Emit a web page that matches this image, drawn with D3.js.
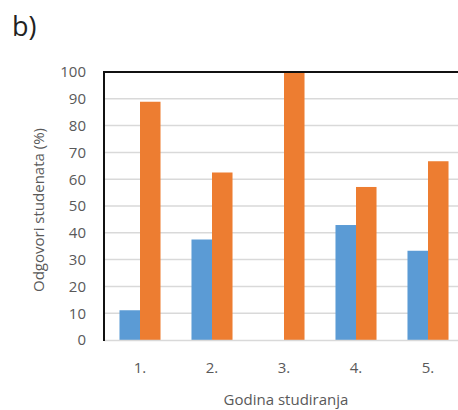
<!DOCTYPE html>
<html><head><meta charset="utf-8">
<script src="https://cdn.jsdelivr.net/npm/d3@7"></script>
<style>body{margin:0;background:#fff}svg{display:block}text{font-family:"Open Sans",sans-serif}</style>
</head><body>
<svg id="c" width="458" height="410"></svg>
<script>
const categories = ["1.", "2.", "3.", "4.", "5."];
const seriesBlue = [11.1, 37.5, 0, 42.9, 33.3];
const seriesOrange = [88.9, 62.5, 100, 57.1, 66.7];
const yTicks = [0, 10, 20, 30, 40, 50, 60, 70, 80, 90, 100];
const colors = ["#5b9bd5", "#ed7d31"];

const svg = d3.select("#c");
const L = 104, R = 464, T = 72, B = 340;
const FONT = "'Open Sans',sans-serif";
const x0 = d3.scaleBand().domain(categories).range([L, R]).paddingInner(0.43).paddingOuter(0.215);
const x1 = d3.scaleBand().domain([0, 1]).range([0, x0.bandwidth()]);
const y = d3.scaleLinear().domain([0, 100]).range([B, T]);

svg.append("text").attr("x", 12).attr("y", 36).attr("font-size", 27).attr("fill", "#222").text("b)");

// gridlines
svg.append("g").selectAll("line").data(yTicks.filter(d => d > 0 && d < 100)).join("line")
  .attr("x1", L).attr("x2", 458).attr("y1", d => y(d)).attr("y2", d => y(d))
  .attr("stroke", "#d9d9d9").attr("stroke-width", 1.5);

// bars
const data = categories.map((c, i) => ({c, v: [seriesBlue[i], seriesOrange[i]]}));
const g = svg.append("g").selectAll("g").data(data).join("g").attr("transform", d => `translate(${x0(d.c)},0)`);
g.selectAll("rect").data(d => d.v.map((v, k) => ({v, k}))).join("rect")
  .attr("x", d => x1(d.k)).attr("width", x1.bandwidth())
  .attr("y", d => y(d.v)).attr("height", d => B - y(d.v))
  .attr("fill", d => colors[d.k]);

// bottom axis line
svg.append("line").attr("x1", L).attr("x2", 458).attr("y1", B + 0.5).attr("y2", B + 0.5).attr("stroke", "#d9d9d9").attr("stroke-width", 1.5);
// top and left border
svg.append("line").attr("x1", L).attr("x2", 458).attr("y1", T).attr("y2", T).attr("stroke", "#111").attr("stroke-width", 2);
svg.append("line").attr("x1", L).attr("x2", L).attr("y1", T - 1).attr("y2", B + 1).attr("stroke", "#111").attr("stroke-width", 2);

// y axis labels
const yAxis = d3.axisLeft(y).tickValues(yTicks).tickSize(0).tickPadding(0);
const ya = svg.append("g").attr("transform", `translate(${86},0)`).call(yAxis);
ya.select(".domain").remove();
ya.selectAll("text").attr("font-size", 15).attr("fill", "#595959").attr("font-family", FONT);

// x axis labels
const xAxis = d3.axisBottom(x0).tickSize(0).tickPadding(0);
const xa = svg.append("g").attr("transform", `translate(0,${362})`).call(xAxis);
xa.select(".domain").remove();
xa.selectAll("text").attr("font-size", 15).attr("fill", "#595959").attr("font-family", FONT);

svg.append("text").attr("x", 286).attr("y", 405).attr("text-anchor", "middle").attr("font-size", 15).attr("fill", "#595959").text("Godina studiranja");
svg.append("text").attr("transform", "translate(44,210) rotate(-90)").attr("text-anchor", "middle").attr("font-size", 15).attr("fill", "#595959").text("Odgovori studenata (%)");
</script>
</body></html>
